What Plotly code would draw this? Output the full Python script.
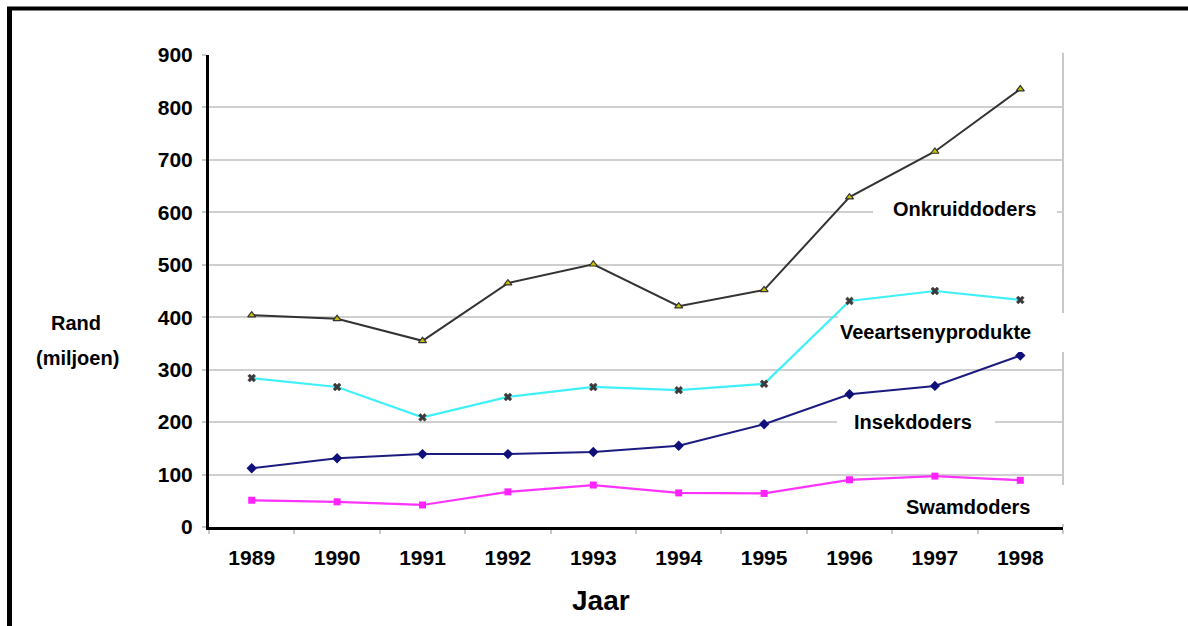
import plotly.graph_objects as go

# Pesticide sales in South Africa, million rand, 1989-1998
years = ["1989", "1990", "1991", "1992", "1993", "1994", "1995", "1996", "1997", "1998"]
onkruiddoders = [404, 397, 355, 465, 501, 421, 452, 629, 716, 835]
veeartsenyprodukte = [284, 267, 209, 248, 267, 261, 273, 431, 450, 433]
insekdoders = [112, 131, 139, 139, 143, 155, 196, 253, 269, 327]
swamdoders = [51, 48, 42, 67, 80, 65, 64, 90, 97, 89]

y_ticks = [0, 100, 200, 300, 400, 500, 600, 700, 800, 900]

FONT = "Liberation Sans, Arial, Helvetica, sans-serif"

# plot-area geometry in pixels (used to place the frame and label boxes)
W, H = 1188, 626
L, R, T, B = 209, 125, 55, 99
PW, PH = W - L - R, H - T - B


def px_x(px):
    return (px - L) / PW


def px_y(py):
    return (H - B - py) / PH


fig = go.Figure()

fig.add_trace(go.Scatter(
    x=years, y=onkruiddoders, mode="lines+markers", name="Onkruiddoders",
    line=dict(color="#333333", width=2),
    marker=dict(symbol="triangle-up", size=7, color="#c8c000",
                line=dict(color="#333333", width=1.2)),
))
fig.add_trace(go.Scatter(
    x=years, y=veeartsenyprodukte, mode="lines+markers", name="Veeartsenyprodukte",
    line=dict(color="#3ff0f8", width=2.2),
    marker=dict(symbol="x", size=7, color="#3a3a3a",
                line=dict(color="#3a3a3a", width=0.5)),
))
fig.add_trace(go.Scatter(
    x=years, y=insekdoders, mode="lines+markers", name="Insekdoders",
    line=dict(color="#1c1c80", width=2),
    marker=dict(symbol="diamond", size=8, color="#10107a"),
))
fig.add_trace(go.Scatter(
    x=years, y=swamdoders, mode="lines+markers", name="Swamdoders",
    line=dict(color="#ff33ff", width=2.2),
    marker=dict(symbol="square", size=7, color="#ff22ff"),
))

shapes = []
# grey right-hand border of the plot area
shapes.append(dict(type="line", xref="paper", yref="paper", x0=1, x1=1, y0=0, y1=1.005,
                   line=dict(color="#c8c8c8", width=2), layer="below"))
# outer frame: top and left edges
shapes.append(dict(type="line", xref="paper", yref="paper",
                   x0=px_x(7), x1=px_x(1200), y0=px_y(8.5), y1=px_y(8.5),
                   line=dict(color="black", width=4)))
shapes.append(dict(type="line", xref="paper", yref="paper",
                   x0=px_x(9.5), x1=px_x(9.5), y0=px_y(7), y1=px_y(640),
                   line=dict(color="black", width=5)))

# white boxes behind the series labels
boxes = [
    (873, 1057, 192, 226),
    (838, 1064, 313, 352),
    (837, 995, 405, 440),
    (880, 1066, 485, 524),
]
for x0, x1, y0, y1 in boxes:
    shapes.append(dict(type="rect", xref="paper", yref="paper",
                       x0=px_x(x0), x1=px_x(x1), y0=px_y(y1), y1=px_y(y0),
                       fillcolor="white", line=dict(width=0), layer="above"))

annotations = []
series_labels = [
    ("Onkruiddoders", 964, 209),
    ("Veeartsenyprodukte", 935, 332),
    ("Insekdoders", 913, 422),
    ("Swamdoders", 968, 507),
]
for text, cx, cy in series_labels:
    annotations.append(dict(text="<b>" + text + "</b>", xref="paper", yref="paper",
                            x=px_x(cx), y=px_y(cy),
                            xanchor="center", yanchor="middle", showarrow=False,
                            font=dict(family=FONT, size=20, color="black")))

annotations.append(dict(text="<b>Rand</b>", xref="paper", yref="paper", x=px_x(76), y=px_y(323),
                        xanchor="center", yanchor="middle", showarrow=False,
                        font=dict(family=FONT, size=20, color="black")))
annotations.append(dict(text="<b>(miljoen)</b>", xref="paper", yref="paper", x=px_x(77), y=px_y(358),
                        xanchor="center", yanchor="middle", showarrow=False,
                        font=dict(family=FONT, size=20, color="black")))
annotations.append(dict(text="<b>Jaar</b>", xref="paper", yref="paper", x=px_x(601), y=px_y(600),
                        xanchor="center", yanchor="middle", showarrow=False,
                        font=dict(family=FONT, size=28, color="black")))

fig.update_layout(
    width=W, height=H,
    margin=dict(l=L, r=R, t=T, b=B, pad=0),
    paper_bgcolor="white", plot_bgcolor="white",
    showlegend=False,
    font=dict(family=FONT, color="black"),
    shapes=shapes,
    annotations=annotations,
    xaxis=dict(
        type="category", categoryorder="array", categoryarray=years,
        range=[-0.5, 9.5],
        showline=True, linecolor="black", linewidth=3,
        showgrid=False, zeroline=False,
        ticks="outside", tickson="boundaries", ticklen=4, tickcolor="#c8c8c8", tickwidth=1.5,
        tickfont=dict(family=FONT, size=21, color="black", weight="bold"),
        ticklabelstandoff=10,
    ),
    yaxis=dict(
        range=[0, 900], tickvals=y_ticks, ticktext=[str(v) for v in y_ticks],
        showline=True, linecolor="black", linewidth=3,
        showgrid=True, gridcolor="#cfcfcf", gridwidth=2,
        zeroline=False,
        ticks="outside", ticklen=4, tickcolor="#c8c8c8", tickwidth=1.5,
        tickfont=dict(family=FONT, size=21, color="black", weight="bold"),
        ticklabelstandoff=5,
    ),
)

fig.write_html("out.html")
